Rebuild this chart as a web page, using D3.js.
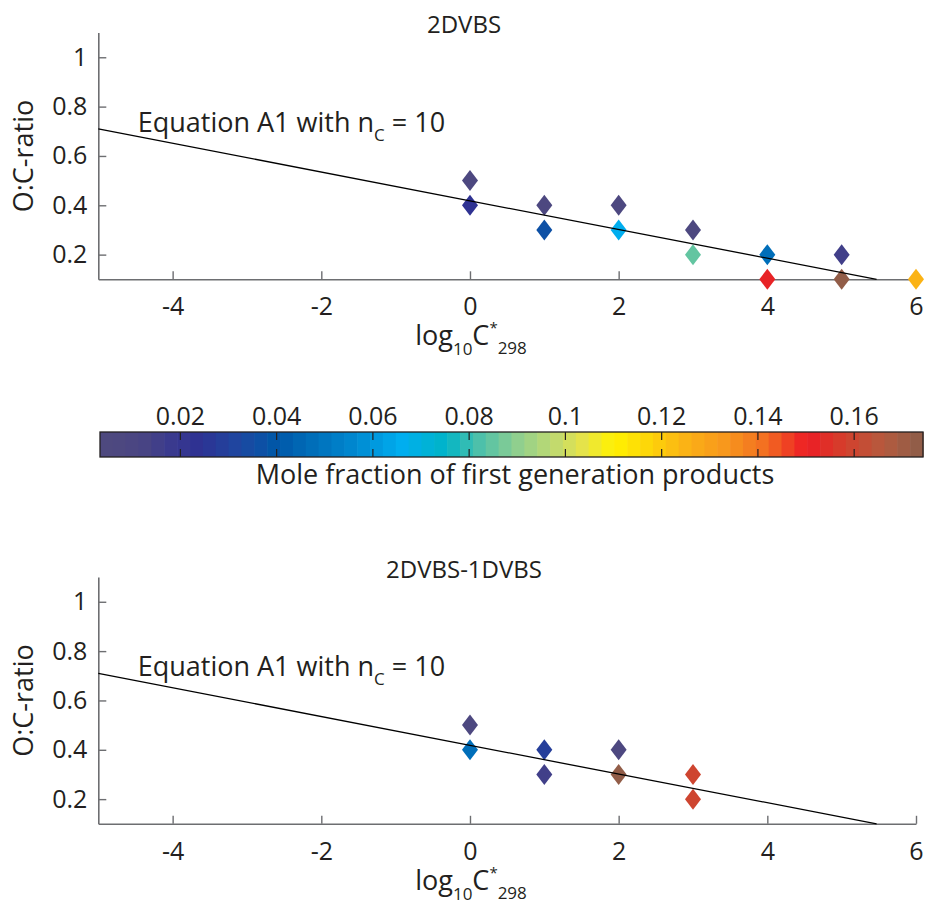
<!DOCTYPE html>
<html>
<head>
<meta charset="utf-8">
<script src="https://cdn.jsdelivr.net/npm/d3@7"></script>
<style>
  body { margin: 0; background: #fff; }
  text { font-family: "Open Sans", "Noto Sans", sans-serif; fill: #231f20; }
</style>
</head>
<body>
<script>
"use strict";

//Panel data: x = log10 C*298, y = O:C ratio, frac = mole fraction (colour)
var topX    = [0, 0, 1, 1, 2, 2, 3, 3, 4, 4, 5, 5, 6];
var topY    = [0.5, 0.4, 0.4, 0.3, 0.4, 0.3, 0.3, 0.2, 0.2, 0.1, 0.2, 0.1, 0.1];
var topFrac = [0.006, 0.023, 0.006, 0.038, 0.006, 0.066, 0.006, 0.085, 0.048, 0.151, 0.016, 0.174, 0.124];

var botX    = [0, 0, 1, 1, 2, 2, 3, 3];
var botY    = [0.5, 0.4, 0.4, 0.3, 0.4, 0.3, 0.3, 0.2];
var botFrac = [0.006, 0.048, 0.030, 0.016, 0.006, 0.172, 0.160, 0.160];

//Equation A1 with nC = 10
var lineX = [-5, 0, 5.47];
var lineY = [0.71, 0.418, 0.1];

var xTicks = [-4, -2, 0, 2, 4, 6];
var yTicks = [0.2, 0.4, 0.6, 0.8, 1];
var cbTicks = [0.02, 0.04, 0.06, 0.08, 0.1, 0.12, 0.14, 0.16];

//colormap stops
var cmapVals = [0.0033, 0.012, 0.018, 0.024, 0.032, 0.040, 0.048, 0.056, 0.066, 0.075, 0.082,
                0.090, 0.098, 0.104, 0.110, 0.118, 0.126, 0.134, 0.142, 0.150, 0.158, 0.166, 0.1743];
var cmapCols = ["#4f4a7e", "#4a4583", "#3a3a8e", "#2e3192", "#1f47a0", "#0057a8", "#0070ba", "#0088d0",
                "#00aeef", "#00b4c8", "#4cc0aa", "#8fcf8f", "#c2da6e", "#e8e447", "#fff200", "#fdd20a",
                "#fbae17", "#f7941d", "#f26b22", "#ed1c24", "#d4402c", "#b55a3e", "#8b5e4a"];
var nBands = 64;

var width = 928, height = 903;
var axisCol = "#6d6e71";

var svg = d3.select("body").append("svg")
  .attr("width", width)
  .attr("height", height);

var smooth = d3.scaleLinear().domain(cmapVals).range(cmapCols).interpolate(d3.interpolateRgb).clamp(true);
var cDomain = [cmapVals[0], cmapVals[cmapVals.length - 1]];
var bandColors = d3.range(nBands).map(function (i) {
  return smooth(cDomain[0] + (i + 0.5) * (cDomain[1] - cDomain[0]) / nBands);
});
var color = d3.scaleQuantize().domain(cDomain).range(bandColors);

//plain hyphen minus like the original figure
function fmt (d) { return String(d); }

////////////////////////////
//////PANEL DRAWING/////////
////////////////////////////

function drawPanel (top, title, xs, ys, fr) {
  var g = svg.append("g").attr("transform", "translate(0," + top + ")");
  var x = d3.scaleLinear().domain([-5, 6]).range([98.3, 916]);
  var y = d3.scaleLinear().domain([0.1, 1.1]).range([279.3, 32.6]);

  var xAxis = g.append("g").attr("transform", "translate(0," + y(0.1) + ")")
    .call(d3.axisBottom(x).tickValues(xTicks).tickSizeInner(-8).tickSizeOuter(0).tickPadding(18)
      .tickFormat(fmt));
  var yAxis = g.append("g").attr("transform", "translate(" + x(-5) + ",0)")
    .call(d3.axisLeft(y).tickValues(yTicks).tickSizeInner(-8).tickSizeOuter(0).tickPadding(11)
      .tickFormat(fmt));
  [xAxis, yAxis].forEach(function (a) {
    a.select(".domain").attr("stroke", axisCol).attr("stroke-width", 1.6);
    a.selectAll(".tick line").attr("stroke", axisCol).attr("stroke-width", 1.4);
    a.selectAll(".tick text").style("font-size", "25px").attr("fill", "#231f20")
      .style("font-family", "'Open Sans', sans-serif");
  });

  //diamond markers
  var pts = xs.map(function (d, i) { return {x: d, y: ys[i], f: fr[i]}; });
  g.selectAll(".pt").data(pts).enter().append("path")
    .attr("class", "pt")
    .attr("transform", function (d) { return "translate(" + x(d.x) + "," + y(d.y) + ")"; })
    .attr("d", "M0,-10.5L8,0L0,10.5L-8,0Z")
    .attr("fill", function (d) { return color(d.f); });

  //equation line
  var line = d3.line().x(function (d, i) { return x(lineX[i]); }).y(function (d) { return y(d); });
  g.append("path").datum(lineY).attr("d", line)
    .attr("fill", "none").attr("stroke", "#000").attr("stroke-width", 1.3);

  var eq = g.append("text").attr("x", x(-4.47)).attr("y", y(0.698)).style("font-size", "27px");
  eq.append("tspan").text("Equation A1 with n");
  eq.append("tspan").attr("dy", 9).style("font-size", "17px").text("C");
  eq.append("tspan").attr("dy", -9).text(" = 10");

  g.append("text").attr("x", 464).attr("y", 33).attr("text-anchor", "middle")
    .style("font-size", "24px").text(title);

  var xl = g.append("text").attr("x", 471).attr("y", 345).attr("text-anchor", "middle").style("font-size", "27px");
  xl.append("tspan").text("log");
  xl.append("tspan").attr("dy", 10).style("font-size", "17px").text("10");
  xl.append("tspan").attr("dy", -10).text("C");
  xl.append("tspan").attr("dy", -12).style("font-size", "15px").text("*");
  xl.append("tspan").attr("dy", 21).style("font-size", "17px").text("298");

  g.append("text").attr("transform", "translate(33,156) rotate(-90)").attr("text-anchor", "middle")
    .style("font-size", "27px").text("O:C-ratio");
}

////////////////////////////
//////COLOUR BAR////////////
////////////////////////////

function drawColorbar () {
  var cx = d3.scaleLinear().domain(cDomain).range([100, 923]);
  var y0 = 432, y1 = 457;
  var g = svg.append("g");
  var bw = (cx.range()[1] - cx.range()[0]) / nBands;
  g.selectAll(".band").data(bandColors).enter().append("rect")
    .attr("x", function (d, i) { return cx.range()[0] + i * bw; })
    .attr("y", y0).attr("width", bw + 0.6).attr("height", y1 - y0)
    .attr("fill", function (d) { return d; });
  g.append("rect").attr("x", 100).attr("y", y0).attr("width", 823).attr("height", y1 - y0)
    .attr("fill", "none").attr("stroke", "#231f20").attr("stroke-width", 1.3);

  var t = g.selectAll(".cbt").data(cbTicks).enter().append("g")
    .attr("transform", function (d) { return "translate(" + cx(d) + ",0)"; });
  t.append("line").attr("y1", y0).attr("y2", y0 + 8).attr("stroke", "#231f20").attr("stroke-width", 1.2);
  t.append("line").attr("y1", y1 - 8).attr("y2", y1).attr("stroke", "#231f20").attr("stroke-width", 1.2);
  t.append("text").attr("y", 425).attr("text-anchor", "middle").style("font-size", "25px")
    .text(fmt);

  g.append("text").attr("x", 515).attr("y", 484).attr("text-anchor", "middle")
    .style("font-size", "27px").text("Mole fraction of first generation products");
}

drawColorbar();
drawPanel(0, "2DVBS", topX, topY, topFrac);
drawPanel(544.5, "2DVBS-1DVBS", botX, botY, botFrac);
</script>
</body>
</html>
